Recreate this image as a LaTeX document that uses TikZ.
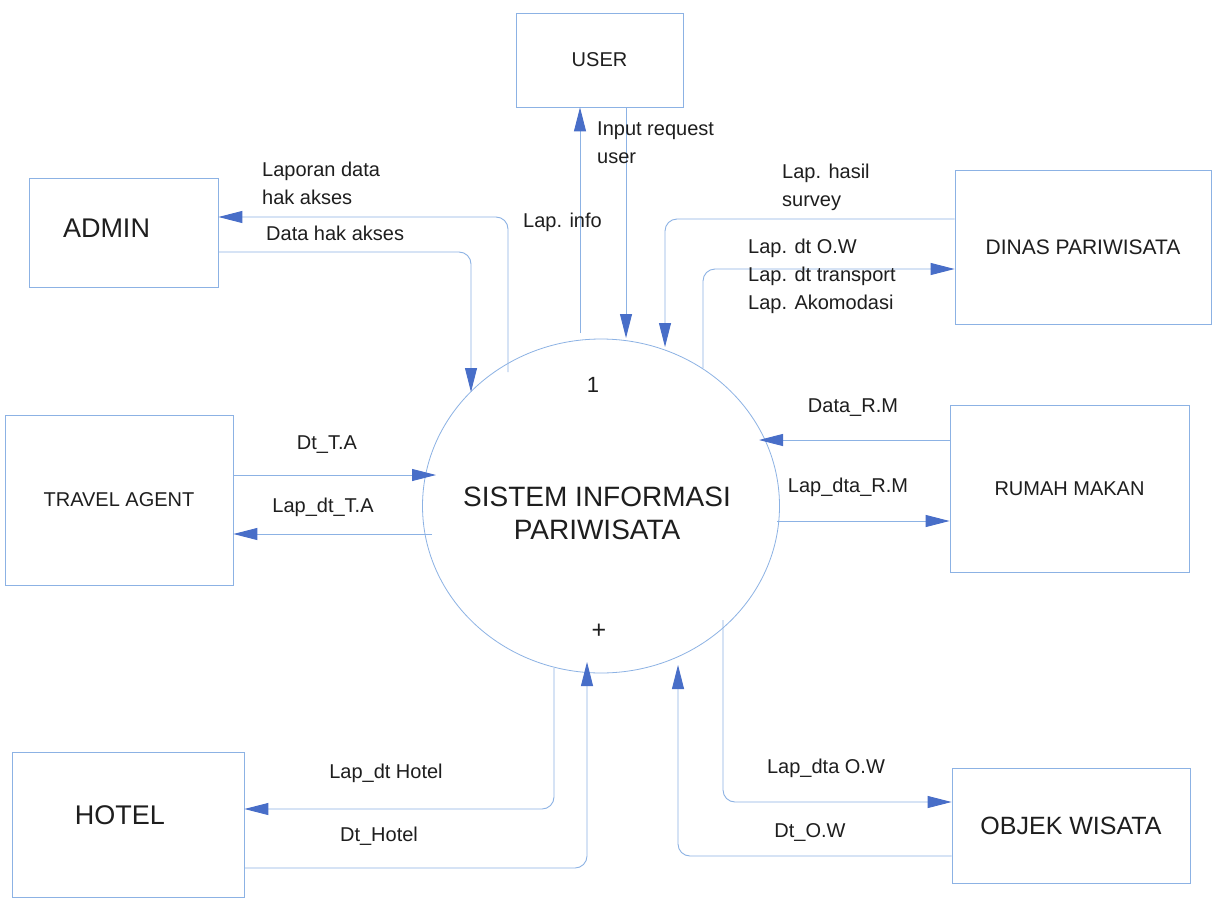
\documentclass[tikz,border=0pt]{standalone}
\usepackage{fontspec}
\setmainfont{Liberation Sans}
\usetikzlibrary{arrows.meta,shapes.geometric}
\definecolor{flowline}{RGB}{140,178,228}
\definecolor{flowtip}{RGB}{72,110,200}
\definecolor{ink}{RGB}{30,30,30}
\begin{document}
\begin{tikzpicture}[x=1pt,y=-1pt,
  entity/.style={draw=flowline,line width=0.8pt,inner sep=0pt,text=ink,
    font=\fontsize{20}{24}\selectfont},
  flow/.style={draw=flowline,line width=0.9pt,rounded corners=12pt,
    -{Triangle[length=24pt,width=12pt,color=flowtip,fill=flowtip]}},
  lbl/.style={font=\fontsize{20}{28}\selectfont,text=ink,inner sep=0pt,align=left},
]
\useasboundingbox (0,0) rectangle (1214,899);
\fill[white] (0,0) rectangle (1214,899);

% external entities
\node[entity,minimum width=167pt,minimum height=94pt] (user) at (599.5,60) {USER};
\node[entity,minimum width=189pt,minimum height=109pt,
  label={[text=ink,font=\fontsize{27}{30}\selectfont,xshift=-17pt,yshift=4.5pt]center:ADMIN}]
  (admin) at (123.5,232.5) {};
\node[entity,minimum width=256pt,minimum height=154pt,font=\fontsize{21}{24}\selectfont]
  (dinas) at (1083,247) {DINAS PARIWISATA};
\node[entity,minimum width=228pt,minimum height=170pt] (ta) at (119,500) {TRAVEL AGENT};
\node[entity,minimum width=239pt,minimum height=167pt] (rm) at (1069.5,488.5) {RUMAH MAKAN};
\node[entity,minimum width=232pt,minimum height=145pt,
  label={[text=ink,font=\fontsize{27}{30}\selectfont,xshift=-8pt,yshift=9.5pt]center:HOTEL}]
  (hotel) at (128,824.5) {};
\node[entity,minimum width=238pt,minimum height=115pt,font=\fontsize{25}{30}\selectfont]
  (ow) at (1071,825.5) {OBJEK WISATA};

% process
\node[draw=flowline,line width=0.8pt,ellipse,minimum width=357pt,minimum height=334pt,inner sep=0pt]
  (sys) at (601,506) {};
\node[text=ink,font=\fontsize{28}{33}\selectfont,align=center] (systitle) at (597,513)
  {SISTEM INFORMASI\\PARIWISATA};
\node[text=ink,font=\fontsize{22}{24}\selectfont] (pnum) at (593,385) {1};
\node[text=ink,font=\fontsize{25}{28}\selectfont] (pplus) at (599,631) {+};

% data flows
\draw[flow] (508,372) |- (admin.east |- 0,217);
\draw[flow] (admin.east |- 0,252) -| (471,392);
\draw[flow] (580,333) -- (user.south -| 580,0);
\draw[flow] (user.south -| 626,0) -- (626,338);
\draw[flow] (dinas.west |- 0,219) -| (665,347);
\draw[flow] (703,368) |- (dinas.west |- 0,269);
\draw[flow] (rm.west |- 0,440) -- (759,440);
\draw[flow] (777,521) -- (rm.west |- 0,521);
\draw[flow] (ta.east |- 0,475) -- (436,475);
\draw[flow] (432,534) -- (ta.east |- 0,534);
\draw[flow] (554,668) |- (hotel.east |- 0,809);
\draw[flow] (hotel.east |- 0,868) -| (587,662);
\draw[flow] (723,620) |- (ow.west |- 0,802);
\draw[flow] (ow.west |- 0,856) -| (678,665);

% flow labels
\node[lbl,anchor=west] (l1) at (262,183.5) {Laporan data\\hak akses};
\node[lbl,anchor=west] (l2) at (266,233) {Data hak akses};
\node[lbl,anchor=west] (l3) at (523,222) {Lap. info};
\node[lbl,anchor=west] (l4) at (597,143) {Input request\\user};
\node[lbl,anchor=west] (l5) at (782,187) {Lap. hasil\\survey};
\node[lbl,anchor=west] (l6) at (748,276.5) {Lap. dt O.W\\Lap. dt transport\\Lap. Akomodasi};
\node[lbl] (l7) at (853,408) {Data\_R.M};
\node[lbl] (l8) at (848,487) {Lap\_dta\_R.M};
\node[lbl] (l9) at (327,445) {Dt\_T.A};
\node[lbl] (l10) at (323,507) {Lap\_dt\_T.A};
\node[lbl] (l11) at (386,773) {Lap\_dt Hotel};
\node[lbl] (l12) at (379,836) {Dt\_Hotel};
\node[lbl] (l13) at (826,768) {Lap\_dta O.W};
\node[lbl] (l14) at (810,832) {Dt\_O.W};
\end{tikzpicture}
\end{document}
